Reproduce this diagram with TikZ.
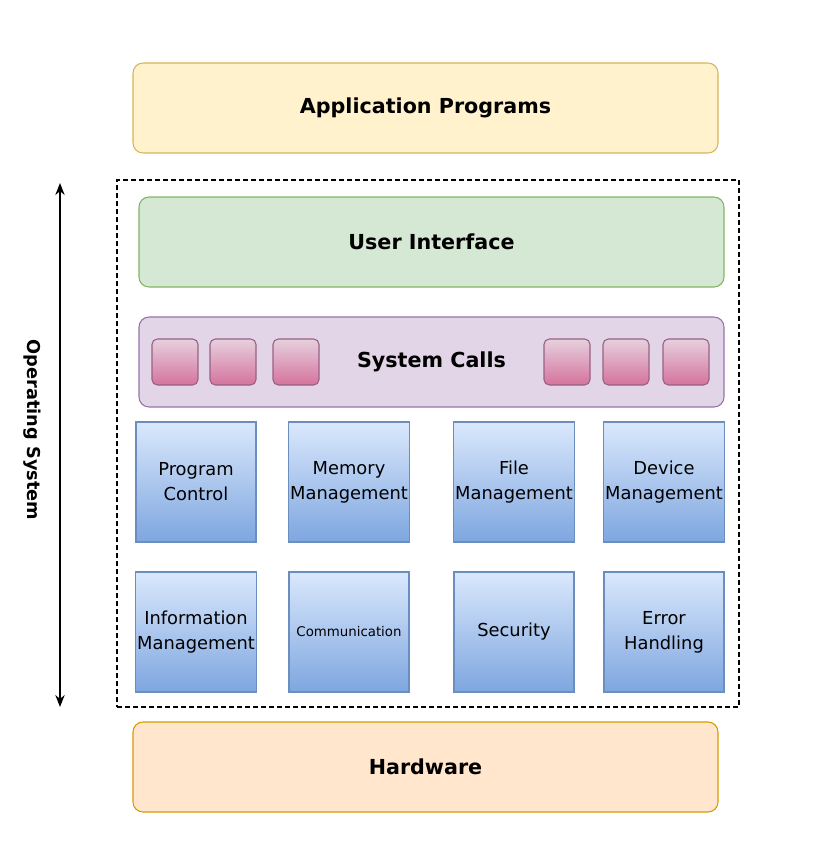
\documentclass[tikz,border=0pt]{standalone}
\usepackage{fontspec}
\setmainfont{DejaVu Sans}
\usepackage{xcolor}
\usetikzlibrary{positioning,shapes.geometric,fit,arrows.meta}

\definecolor{appfill}{HTML}{FFF2CC}
\definecolor{appline}{HTML}{D6B656}
\definecolor{uifill}{HTML}{D5E8D4}
\definecolor{uiline}{HTML}{82B366}
\definecolor{sysfill}{HTML}{E1D5E7}
\definecolor{sysline}{HTML}{9673A6}
\definecolor{keytop}{HTML}{E6D0DE}
\definecolor{keybot}{HTML}{D5739D}
\definecolor{keyline}{HTML}{996185}
\definecolor{modtop}{HTML}{DAE8FC}
\definecolor{modbot}{HTML}{7EA6E0}
\definecolor{modline}{HTML}{6C8EBF}
\definecolor{hwfill}{HTML}{FFE6CC}
\definecolor{hwline}{HTML}{D79B00}

\tikzset{
  layer/.style={draw, line width=0.8pt, rounded corners=7.5pt, minimum width=438.75pt, minimum height=67.5pt,
    font=\bfseries\fontsize{15.5}{18}\selectfont},
  key/.style={draw=keyline, line width=0.8pt, rounded corners=4pt, top color=keytop, bottom color=keybot,
    minimum size=34.5pt},
  module/.style={draw=modline, line width=0.8pt, top color=modtop, bottom color=modbot, minimum size=90pt,
    align=center, inner sep=1pt, font=\fontsize{13.4}{18.75}\selectfont},
}

\begin{document}
\begin{tikzpicture}[x=0.75pt, y=-0.75pt]
      \useasboundingbox (0,0) rectangle (837,847);

      % Define the layers
      \node[layer, fill=appfill, draw=appline] (app) at (425.5,108) {Application Programs};
      \node[draw, line width=0.8pt, dash pattern=on 3.5pt off 2.5pt, minimum width=466.5pt, minimum height=395.25pt] (os) at (428,443.5) {};
      \node[layer, fill=uifill, draw=uiline] (ui) at (431.5,242) {User Interface};
      \node[layer, fill=sysfill, draw=sysline] (sys) at (431.5,362) {System Calls};
      \node[layer, fill=hwfill, draw=hwline] (hw) at (425.5,767) {Hardware};

      % Define the small boxes inside the system calls
      \foreach \x [count=\i] in {175,233,296,567,626,686}
          \node[key] (k\i) at (\x,362) {};

      % Define the modules of the operating system
      \node[module] (prog) at (196,482) {Program\\Control};
      \node[module] (mem) at (349,482) {Memory\\Management};
      \node[module] (file) at (514,482) {File\\Management};
      \node[module] (dev) at (664,482) {Device\\Management};
      \node[module] (info) at (196,632) {Information\\Management};
      \node[module, font=\fontsize{10}{12}\selectfont] (comm) at (349,632) {\raisebox{-3pt}{Communication}};
      \node[module] (sec) at (514,632) {Security};
      \node[module] (err) at (664,632) {Error\\Handling};

      % Draw the arrow along the operating system
      \coordinate (top) at (60,183);
      \coordinate (bot) at (60,707);
      \draw[{Stealth[length=9pt,width=7pt]}-{Stealth[length=9pt,width=7pt]}, line width=1pt] (top) -- (bot);
      \node[rotate=-90, font=\bfseries\fontsize{13.3}{15}\selectfont] (oslabel) at (32,430) {Operating System};
\end{tikzpicture}
\end{document}
